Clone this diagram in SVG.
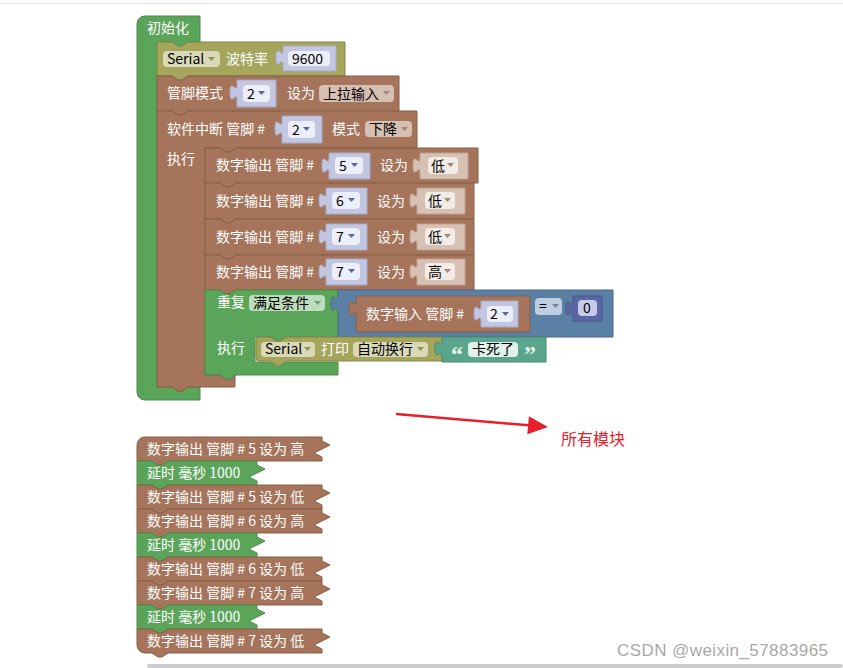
<svg xmlns="http://www.w3.org/2000/svg" width="843" height="668" viewBox="0 0 843 668">
<defs>
<style>
text{font-family:"Noto Sans CJK SC","Noto Sans",sans-serif;font-size:14px}
.w{fill:#fff}
.k{fill:#000}
.green{fill:#5ba55b;stroke:#4a8a4a;stroke-width:1}
.brown{fill:#a5745b;stroke:#885e49;stroke-width:1}
.olive{fill:#a5a55b;stroke:#86864a;stroke-width:1}
.blue{fill:#5b80a5;stroke:#4a6887;stroke-width:1}
.teal{fill:#5ba58c;stroke:#4a8872;stroke-width:1}
.purple{fill:#5b67a5;stroke:#4a5487;stroke-width:1}
.lav{fill:#c2c6e1;stroke:#a6abcc;stroke-width:1}
.lbr{fill:#d7c0b4;stroke:#bfa395;stroke-width:1}
.lf{fill:#eceef8}
.bf{fill:#f3ebe6}
.pol{fill:#d9d9b8}
.pbr{fill:#d6bfb3}
.pgr{fill:#bcdcbc}
.pbl{fill:#bfcde0}
.pte{fill:#e2f1eb}
.ppu{fill:#c7cae9}
.al{fill:#5b67a5}
.ab{fill:#a38877}
.ao{fill:#8f8f60}
.ag{fill:#6f9e6f}
.abl{fill:#6c87a8}
.q{fill:#e8f4ef;font-family:"Liberation Serif",serif;font-size:24px;font-weight:bold}
</style>
</defs>
<rect x="0" y="3" width="843" height="1.2" fill="#e2e2e2"/>
<rect x="147" y="664" width="696" height="4" rx="2" fill="#cdcdcd"/>

<g id="setup">
<path class="green" d="M137,24 a8,8 0 0 1 8,-8 H200 V42 H188 l-6,4 -4,0 -6,-4 H157 V387 H172 l6,4 4,0 6,-4 H200 V400 H145 a8,8 0 0 1 -8,-8 Z"/>
<text class="w" x="147" y="33">初始化</text>
</g>

<g id="serial-baud">
<path class="olive" d="M157,42 H172 l6,4 4,0 6,-4 H345 V76 H188 l-6,4 -4,0 -6,-4 H157 Z"/>
<rect class="pol" x="163" y="51" width="57" height="16" rx="4"/>
<text class="k" x="167" y="64">Serial</text>
<path class="ao" d="M208,57 h7 l-3.5,4 z"/>
<text class="w" x="226" y="64">波特率</text>
<path class="lav" d="M283,46 V50 c0,10 -7,-8 -7,7.5 s7,-2.5 7,7.5 V71 H336 V46 Z"/>
<rect class="lf" x="288" y="51" width="42" height="15" rx="4"/>
<text class="k" x="292" y="64">9600</text>
</g>

<g id="pin-mode">
<path class="brown" d="M157,76 H172 l6,4 4,0 6,-4 H399 V111 H188 l-6,4 -4,0 -6,-4 H157 Z"/>
<text class="w" x="167" y="98">管脚模式</text>
<path class="lav" d="M237,80 V85 c0,10 -7,-8 -7,7.5 s7,-2.5 7,7.5 V107 H276 V80 Z"/>
<rect class="lf" x="243" y="85" width="27" height="17" rx="4"/>
<text class="k" x="247" y="99">2</text>
<path class="al" d="M258,91 h7 l-3.5,4 z"/>
<text class="w" x="287" y="98">设为</text>
<rect class="pbr" x="319" y="85" width="75" height="17" rx="4"/>
<text class="k" x="323" y="99">上拉输入</text>
<path class="ab" d="M383,91 h7 l-3.5,4 z"/>
</g>

<g id="interrupt">
<path class="brown" d="M157,111 H172 l6,4 4,0 6,-4 H417 V148 H236 l-6,4 -4,0 -6,-4 H205 V375 H220 l6,4 4,0 6,-4 H235 V387 H188 l-6,4 -4,0 -6,-4 H157 Z"/>
<text class="w" x="167" y="134">软件中断 管脚 #</text>
<path class="lav" d="M282,116 V121 c0,10 -7,-8 -7,7.5 s7,-2.5 7,7.5 V143 H322 V116 Z"/>
<rect class="lf" x="288" y="121" width="27" height="17" rx="4"/>
<text class="k" x="292" y="135">2</text>
<path class="al" d="M303,127 h7 l-3.5,4 z"/>
<text class="w" x="332" y="134">模式</text>
<rect class="pbr" x="365" y="121" width="47" height="16" rx="4"/>
<text class="k" x="369" y="134">下降</text>
<path class="ab" d="M401,127 h7 l-3.5,4 z"/>
<text class="w" x="167" y="164">执行</text>
</g>

<g id="dout-5-low">
<path class="brown" d="M205,148 H220 l6,4 4,0 6,-4 H478 V183 H236 l-6,4 -4,0 -6,-4 H205 Z"/>
<text class="w" x="216" y="170">数字输出 管脚 #</text>
<path class="lav" d="M329,153 V158 c0,10 -7,-8 -7,7.5 s7,-2.5 7,7.5 V179 H370 V153 Z"/>
<rect class="lf" x="335" y="157" width="28" height="17" rx="4"/>
<text class="k" x="339" y="171">5</text>
<path class="al" d="M351,163 h7 l-3.5,4 z"/>
<text class="w" x="380" y="170">设为</text>
<path class="lbr" d="M420,153 V158 c0,10 -7,-8 -7,7.5 s7,-2.5 7,7.5 V179 H468 V153 Z"/>
<rect class="bf" x="428" y="157" width="30" height="17" rx="4"/>
<text class="k" x="431" y="171">低</text>
<path class="ab" d="M447,163 h7 l-3.5,4 z"/>
</g>

<g id="dout-6-low">
<path class="brown" d="M205,183 H220 l6,4 4,0 6,-4 H474 V219 H236 l-6,4 -4,0 -6,-4 H205 Z"/>
<text class="w" x="216" y="206">数字输出 管脚 #</text>
<path class="lav" d="M326,188 V193 c0,10 -7,-8 -7,7.5 s7,-2.5 7,7.5 V214 H367 V188 Z"/>
<rect class="lf" x="332" y="192" width="28" height="17" rx="4"/>
<text class="k" x="336" y="206">6</text>
<path class="al" d="M348,198 h7 l-3.5,4 z"/>
<text class="w" x="377" y="206">设为</text>
<path class="lbr" d="M417,188 V193 c0,10 -7,-8 -7,7.5 s7,-2.5 7,7.5 V214 H465 V188 Z"/>
<rect class="bf" x="425" y="192" width="30" height="17" rx="4"/>
<text class="k" x="428" y="206">低</text>
<path class="ab" d="M444,198 h7 l-3.5,4 z"/>
</g>

<g id="dout-7-low">
<path class="brown" d="M205,219 H220 l6,4 4,0 6,-4 H474 V255 H236 l-6,4 -4,0 -6,-4 H205 Z"/>
<text class="w" x="216" y="242">数字输出 管脚 #</text>
<path class="lav" d="M326,224 V229 c0,10 -7,-8 -7,7.5 s7,-2.5 7,7.5 V250 H367 V224 Z"/>
<rect class="lf" x="332" y="228" width="28" height="17" rx="4"/>
<text class="k" x="336" y="242">7</text>
<path class="al" d="M348,234 h7 l-3.5,4 z"/>
<text class="w" x="377" y="242">设为</text>
<path class="lbr" d="M417,224 V229 c0,10 -7,-8 -7,7.5 s7,-2.5 7,7.5 V250 H465 V224 Z"/>
<rect class="bf" x="425" y="228" width="30" height="17" rx="4"/>
<text class="k" x="428" y="242">低</text>
<path class="ab" d="M444,234 h7 l-3.5,4 z"/>
</g>

<g id="dout-7-high">
<path class="brown" d="M205,255 H220 l6,4 4,0 6,-4 H474 V290 H236 l-6,4 -4,0 -6,-4 H205 Z"/>
<text class="w" x="216" y="277">数字输出 管脚 #</text>
<path class="lav" d="M326,259 V264 c0,10 -7,-8 -7,7.5 s7,-2.5 7,7.5 V285 H367 V259 Z"/>
<rect class="lf" x="332" y="263" width="28" height="17" rx="4"/>
<text class="k" x="336" y="277">7</text>
<path class="al" d="M348,269 h7 l-3.5,4 z"/>
<text class="w" x="377" y="277">设为</text>
<path class="lbr" d="M417,259 V264 c0,10 -7,-8 -7,7.5 s7,-2.5 7,7.5 V285 H465 V259 Z"/>
<rect class="bf" x="425" y="263" width="30" height="17" rx="4"/>
<text class="k" x="428" y="277">高</text>
<path class="ab" d="M444,269 h7 l-3.5,4 z"/>
</g>

<g id="repeat-until">
<path class="green" d="M205,290 H220 l6,4 4,0 6,-4 H338 V337 H286 l-6,4 -4,0 -6,-4 H255 V362 H270 l6,4 4,0 6,-4 H338 V375 H236 l-6,4 -4,0 -6,-4 H205 Z"/>
<text class="w" x="217" y="307">重复</text>
<rect class="pgr" x="249" y="295" width="76" height="16" rx="4"/>
<text class="k" x="253" y="308">满足条件</text>
<path class="ag" d="M314,301 h7 l-3.5,4 z"/>
<text class="w" x="217" y="353">执行</text>
</g>

<g id="compare">
<path class="blue" d="M338,290 V296 c0,10 -7,-8 -7,7.5 s7,-2.5 7,7.5 V337 H613 V290 Z"/>
<rect class="pbl" x="535" y="298" width="27" height="17" rx="4"/>
<text class="k" x="539" y="311">=</text>
<path class="abl" d="M552,304 h7 l-3.5,4 z"/>
</g>

<g id="digital-read">
<path class="brown" d="M356,296 V301 c0,10 -7,-8 -7,7.5 s7,-2.5 7,7.5 V332 H530 V296 Z"/>
<text class="w" x="366" y="319">数字输入 管脚 #</text>
<path class="lav" d="M481,301 V306 c0,10 -7,-8 -7,7.5 s7,-2.5 7,7.5 V327 H518 V301 Z"/>
<rect class="lf" x="487" y="306" width="26" height="16" rx="4"/>
<text class="k" x="490" y="319">2</text>
<path class="al" d="M502,312 h7 l-3.5,4 z"/>
</g>

<g id="number-0">
<path class="purple" d="M573,296 V301 c0,10 -7,-8 -7,7.5 s7,-2.5 7,7.5 V321 H602 V296 Z"/>
<rect class="ppu" x="578" y="300" width="19" height="16" rx="4"/>
<text class="k" x="583" y="313">0</text>
</g>

<g id="serial-print">
<path class="olive" d="M256,340 a3,3 0 0 1 3,-3 H270 l6,4 4,0 6,-4 H442 V361 H286 l-6,4 -4,0 -6,-4 H259 a3,3 0 0 1 -3,-3 Z"/>
<rect class="pol" x="261" y="342" width="54" height="15" rx="4"/>
<text class="k" x="265" y="354">Serial</text>
<path class="ao" d="M304,347 h7 l-3.5,4 z"/>
<text class="w" x="321" y="354">打印</text>
<rect class="pol" x="353" y="342" width="75" height="15" rx="4"/>
<text class="k" x="357" y="354">自动换行</text>
<path class="ao" d="M417,347 h7 l-3.5,4 z"/>
</g>

<g id="text-string">
<path class="teal" d="M442,337 V341 c0,10 -7,-8 -7,7.5 s7,-2.5 7,7.5 V362 H546 V337 Z"/>
<text class="q" x="451" y="362">“</text>
<rect class="pte" x="468" y="342" width="50" height="15" rx="4"/>
<text class="k" x="472" y="354">卡死了</text>
<text class="q" x="524" y="362">”</text>
</g>

<g id="connectors">
<line x1="396" y1="414" x2="531" y2="425.5" stroke="#e5202a" stroke-width="2.5"/>
<polygon points="548,427 528.9,416.3 527.3,434.3" fill="#e5202a"/>
</g>
<g id="label-all-blocks">
<text x="561" y="445" fill="#e5202a" style="font-size:16px">所有模块</text>
</g>

<g id="stack">
<g id="s1">
<path class="brown" d="M137,445 a8,8 0 0 1 8,-8 H322 v4 l8,4 -16,8 8,4 V461 H168 l-6,4 -4,0 -6,-4 H137 Z"/>
<text class="w" x="147" y="454">数字输出 管脚 # 5 设为 高</text>
</g>
<g id="s2">
<path class="green" d="M137,461 H152 l6,4 4,0 6,-4 H257 v4 l8,4 -16,8 8,4 V485 H168 l-6,4 -4,0 -6,-4 H137 Z"/>
<text class="w" x="147" y="478">延时 毫秒 1000</text>
</g>
<g id="s3">
<path class="brown" d="M137,485 H152 l6,4 4,0 6,-4 H322 v4 l8,4 -16,8 8,4 V509 H168 l-6,4 -4,0 -6,-4 H137 Z"/>
<text class="w" x="147" y="502">数字输出 管脚 # 5 设为 低</text>
</g>
<g id="s4">
<path class="brown" d="M137,509 H152 l6,4 4,0 6,-4 H322 v4 l8,4 -16,8 8,4 V533 H168 l-6,4 -4,0 -6,-4 H137 Z"/>
<text class="w" x="147" y="526">数字输出 管脚 # 6 设为 高</text>
</g>
<g id="s5">
<path class="green" d="M137,533 H152 l6,4 4,0 6,-4 H257 v4 l8,4 -16,8 8,4 V557 H168 l-6,4 -4,0 -6,-4 H137 Z"/>
<text class="w" x="147" y="550">延时 毫秒 1000</text>
</g>
<g id="s6">
<path class="brown" d="M137,557 H152 l6,4 4,0 6,-4 H322 v4 l8,4 -16,8 8,4 V581 H168 l-6,4 -4,0 -6,-4 H137 Z"/>
<text class="w" x="147" y="574">数字输出 管脚 # 6 设为 低</text>
</g>
<g id="s7">
<path class="brown" d="M137,581 H152 l6,4 4,0 6,-4 H322 v4 l8,4 -16,8 8,4 V605 H168 l-6,4 -4,0 -6,-4 H137 Z"/>
<text class="w" x="147" y="598">数字输出 管脚 # 7 设为 高</text>
</g>
<g id="s8">
<path class="green" d="M137,605 H152 l6,4 4,0 6,-4 H257 v4 l8,4 -16,8 8,4 V629 H168 l-6,4 -4,0 -6,-4 H137 Z"/>
<text class="w" x="147" y="622">延时 毫秒 1000</text>
</g>
<g id="s9">
<path class="brown" d="M137,629 H152 l6,4 4,0 6,-4 H322 v4 l8,4 -16,8 8,4 V653 H168 l-6,4 -4,0 -6,-4 H145 a8,8 0 0 1 -8,-8 Z"/>
<text class="w" x="147" y="646">数字输出 管脚 # 7 设为 低</text>
</g>
</g>

<text x="617" y="656" fill="#a8a8a8" textLength="211" style="font-family:'Liberation Sans',sans-serif;font-size:17px">CSDN @weixin_57883965</text>
</svg>
